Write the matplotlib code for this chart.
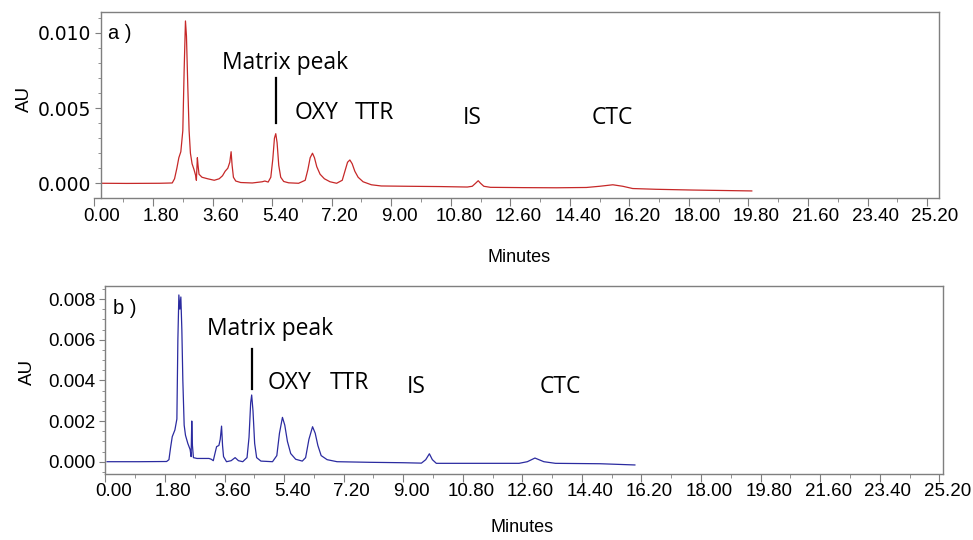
import matplotlib
matplotlib.use("Agg")
import matplotlib.pyplot as plt
import matplotlib.transforms as mtransforms
from matplotlib.ticker import MultipleLocator, FormatStrFormatter

# ---------------- data ----------------
red_t = [0.25, 1.0, 2.0, 2.38, 2.45, 2.52, 2.58, 2.64, 2.70, 2.74, 2.78, 2.81, 2.85, 2.89,
         2.93, 2.98, 3.04, 3.09, 3.11, 3.14, 3.16, 3.19, 3.28, 3.45, 3.65, 3.80, 3.90, 3.98,
         4.06, 4.12, 4.16, 4.19, 4.23, 4.30, 4.45, 4.80, 5.10, 5.18, 5.28, 5.36, 5.42, 5.47,
         5.51, 5.55, 5.60, 5.66, 5.75, 5.90, 6.20, 6.40, 6.48, 6.55, 6.62, 6.68, 6.75, 6.85,
         6.98, 7.15, 7.35, 7.52, 7.60, 7.68, 7.75, 7.82, 7.90, 8.00, 8.15, 8.40, 8.70, 9.50,
         10.5, 11.3, 11.45, 11.55, 11.63, 11.70, 11.80, 12.0, 13.0, 14.0, 14.9, 15.3, 15.7,
         16.0, 16.3, 17.0, 18.1, 19.0, 19.9]
red_au = [0.0, -0.00001, 0.0, 0.00002, 0.0003, 0.0010, 0.0017, 0.0021, 0.0035, 0.0075, 0.0108,
          0.0098, 0.0065, 0.0035, 0.0020, 0.0013, 0.0009, 0.0005, 0.0002, 0.0017, 0.0012,
          0.0006, 0.0004, 0.0003, 0.0002, 0.0003, 0.0005, 0.0008, 0.0010, 0.0014, 0.0021,
          0.0012, 0.0004, 0.00015, 0.00005, 0.00002, 0.00010, 0.00015, 0.00008, 0.0004,
          0.0016, 0.0030, 0.0033, 0.0027, 0.0012, 0.0004, 0.00012, 0.00003, 0.0, 0.0002,
          0.0009, 0.0017, 0.0020, 0.0017, 0.0011, 0.0006, 0.0003, 0.0001, 0.0, 0.0002,
          0.0008, 0.0014, 0.00155, 0.0013, 0.0008, 0.0004, 0.0001, -0.0001, -0.00018,
          -0.0002, -0.00022, -0.00025, -0.0002, 0.0, 0.00017, 0.0, -0.0002, -0.00027,
          -0.00029, -0.0003, -0.00028, -0.0002, -0.0001, -0.0002, -0.00035, -0.0004,
          -0.00045, -0.00048, -0.00051]

blue_t = [0.05, 1.0, 1.85, 1.92, 1.97, 2.02, 2.10, 2.16, 2.19, 2.22, 2.25, 2.28, 2.31, 2.34,
          2.38, 2.42, 2.49, 2.56, 2.59, 2.61, 2.63, 2.66, 2.77, 3.13, 3.20, 3.26, 3.31, 3.36,
          3.43, 3.47, 3.51, 3.54, 3.57, 3.66, 3.80, 3.92, 4.02, 4.15, 4.28, 4.34, 4.39, 4.42,
          4.46, 4.51, 4.57, 4.70, 5.05, 5.18, 5.26, 5.35, 5.42, 5.50, 5.60, 5.75, 5.95, 6.05,
          6.15, 6.26, 6.34, 6.42, 6.52, 6.70, 7.0, 8.0, 9.0, 9.55, 9.68, 9.79, 9.88, 10.0,
          11.0, 12.5, 12.75, 12.98, 13.25, 13.6, 14.95, 16.0]
blue_au = [0.0, 0.0, 0.00001, 0.0001, 0.0007, 0.00123, 0.00156, 0.0021, 0.0060, 0.0082,
           0.0075, 0.0081, 0.0065, 0.0040, 0.0018, 0.0013, 0.0009, 0.0006, 0.00025, 0.0020,
           0.0008, 0.0002, 0.00016, 0.00016, 0.00012, 0.00005, 0.0004, 0.00074, 0.0008,
           0.0011, 0.00175, 0.0008, 0.00025, 0.0, 0.00005, 0.0002, 0.00005, 0.0, 0.0002,
           0.0012, 0.0029, 0.00328, 0.0025, 0.0009, 0.0002, 0.00003, 0.0, 0.0003, 0.0014,
           0.00218, 0.0018, 0.0010, 0.0004, 0.00012, 0.00003, 0.0002, 0.0011, 0.00172,
           0.0014, 0.0008, 0.0003, 0.0001, 0.0, -0.00003, -0.00005, -0.00007, 0.0001,
           0.00039, 0.0001, -0.00008, -0.00008, -0.00008, 0.0, 0.00018, 0.0, -0.00008,
           -0.0001, -0.00016]

peak_labels = ["Matrix peak", "OXY", "TTR", "IS", "CTC"]
top_label_x = [5.79, 6.73, 8.48, 11.44, 15.67]
top_label_y = [0.0076, 0.00426, 0.00426, 0.00395, 0.00395]
bot_label_x = [4.97, 5.57, 7.36, 9.39, 13.74]
bot_label_y = [0.00623, 0.00356, 0.00356, 0.00339, 0.00339]

top_marker_x = [5.52, 5.52]
top_marker_y = [0.0040, 0.0070]
bot_marker_x = [4.44, 4.44]
bot_marker_y = [0.00357, 0.00554]

panel_names = ["a )", "b )"]
panel_x = [0.45, 0.24]
panel_y = [0.0096, 0.00725]

# ---------------- figure ----------------
W, H = 973, 540
fig = plt.figure(figsize=(W / 100, H / 100), dpi=100)
fig.patch.set_facecolor("white")

TICK_FONT = "Liberation Sans"
ANN_FONT = "Open Sans"
GRAY = "#7f7f7f"


def px_axes(left, right, top, bottom):
    return fig.add_axes([left / W, (H - bottom) / H, (right - left) / W, (bottom - top) / H])


ax1 = px_axes(93.5, 939, 11.7, 198.3)
ax2 = px_axes(105.4, 943.3, 286, 473.5)

ax1.plot(red_t, red_au, color="#c62828", lw=0.9)
ax2.plot(blue_t, blue_au, color="#2b2ba0", lw=0.9)

ax1.set_xlim(0, 25.56)
ax1.set_ylim(-0.001, 0.011417)
ax2.set_xlim(0, 25.32)
ax2.set_ylim(-0.00058, 0.00864)

ax1.yaxis.set_major_locator(MultipleLocator(0.005))
ax1.yaxis.set_minor_locator(MultipleLocator(0.001))
ax2.yaxis.set_major_locator(MultipleLocator(0.002))
ax2.yaxis.set_minor_locator(MultipleLocator(0.0005))

offset = mtransforms.ScaledTranslation(0.08, 0, fig.dpi_scale_trans)
for ax in (ax1, ax2):
    ax.set_xticks([i * 1.8 for i in range(15)])
    ax.xaxis.set_minor_locator(MultipleLocator(0.9))
    ax.xaxis.set_major_formatter(FormatStrFormatter("%.2f"))
    ax.yaxis.set_major_formatter(FormatStrFormatter("%.3f"))
    for s in ax.spines.values():
        s.set_color(GRAY)
        s.set_linewidth(1.0)
    ax.tick_params(axis="both", which="major", direction="out", color=GRAY,
                   labelsize=13.5, labelcolor="black")
    ax.tick_params(axis="x", which="major", length=5.5, pad=1.5)
    ax.tick_params(axis="x", which="minor", length=3, color=GRAY)
    ax.tick_params(axis="y", which="major", length=4.5, pad=2.5)
    ax.tick_params(axis="y", which="minor", length=2.5, color=GRAY)
    for lab in ax.get_xticklabels() + ax.get_yticklabels():
        lab.set_fontfamily(TICK_FONT)
    for lab in ax.get_xticklabels():
        lab.set_transform(lab.get_transform() + offset)
    ax.set_xlabel("Minutes", fontsize=13, family=TICK_FONT, va="center")
    ax.set_ylabel("AU", fontsize=13.5, family=TICK_FONT, va="center")

# top panel: y-axis sits slightly right of the time origin
ax1.spines["left"].set_position(("data", 0.22))
ax1.spines["top"].set_bounds(0.22, 25.56)

ax1.xaxis.set_label_coords(519 / W, (H - 257) / H, transform=fig.transFigure)
ax2.xaxis.set_label_coords(522 / W, (H - 528) / H, transform=fig.transFigure)
ax1.yaxis.set_label_coords(24 / W, (H - 99) / H, transform=fig.transFigure)
ax2.yaxis.set_label_coords(27 / W, (H - 372) / H, transform=fig.transFigure)

for ax, lx, ly, mx, my, pn, px, py in (
        (ax1, top_label_x, top_label_y, top_marker_x, top_marker_y, panel_names[0], panel_x[0], panel_y[0]),
        (ax2, bot_label_x, bot_label_y, bot_marker_x, bot_marker_y, panel_names[1], panel_x[1], panel_y[1])):
    for name, x, y in zip(peak_labels, lx, ly):
        ax.text(x, y, name, family=ANN_FONT, fontsize=16.5, ha="center", va="baseline",
                color="black")
    ax.plot(mx, my, color="black", lw=1.6)
    ax.text(px, py, pn, family=TICK_FONT, fontsize=14.5, ha="left", va="baseline")

fig.savefig("out.png", dpi=100)
